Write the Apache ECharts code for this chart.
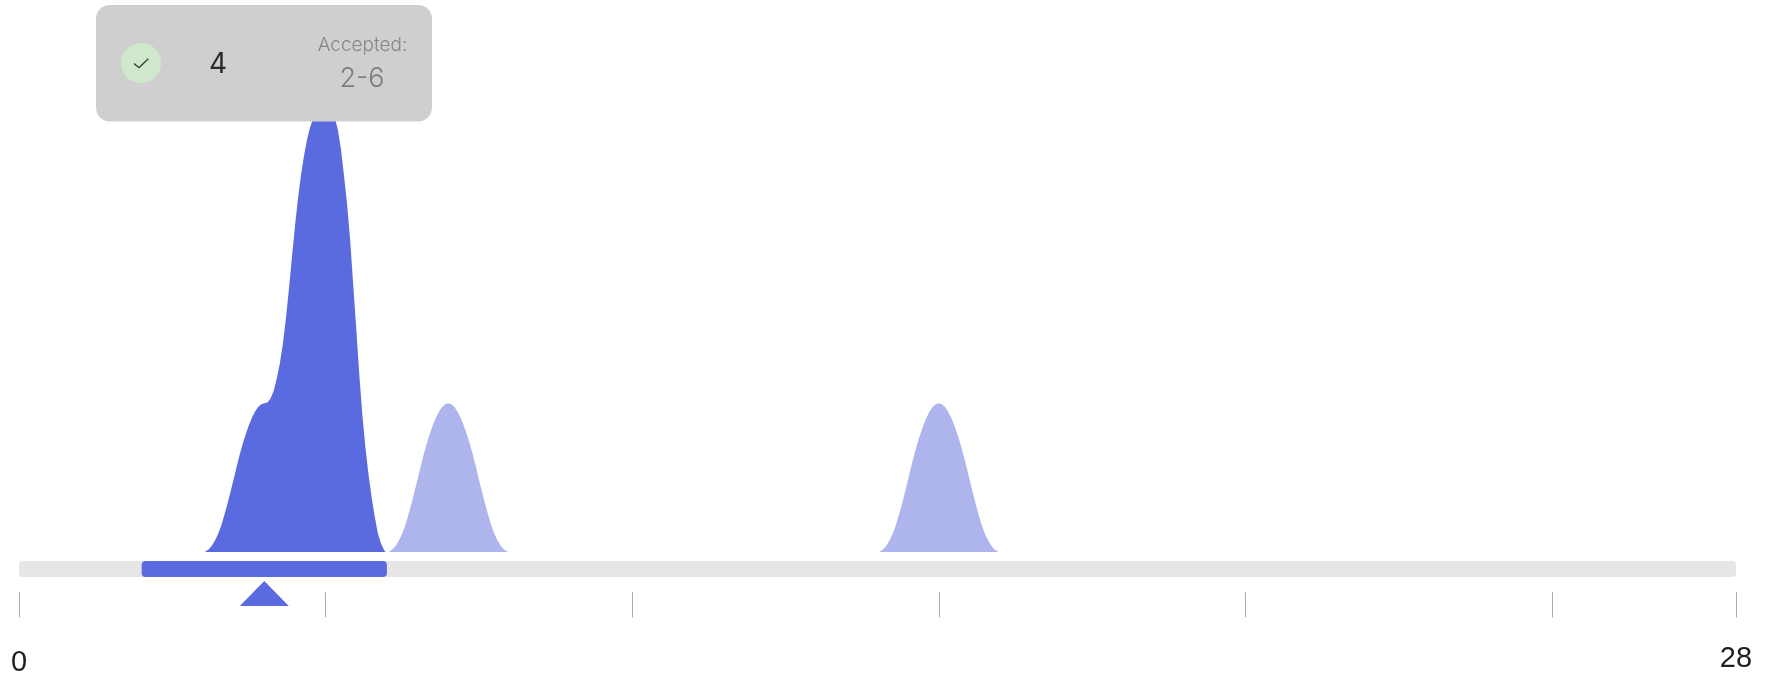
<!DOCTYPE html>
<html>
<head>
<meta charset="utf-8">
<style>html,body{margin:0;padding:0;background:#fff}#c{width:1768px;height:676px}</style>
<script src="https://cdn.jsdelivr.net/npm/echarts@6/dist/echarts.min.js"></script>
</head>
<body>
<div id="c"></div>
<script>
const tickValues = [0, 5, 10, 15, 20, 25, 28];
const tickLabels = [0, 28];
const scaleRange = [0, 28];
const acceptedRange = [2, 6];
const answer = 4;
const acceptedTitle = 'Accepted:';
const acceptedText = '2-6';

const correctX = [3.03,3.1,3.15,3.2,3.25,3.3,3.35,3.4,3.45,3.5,3.55,3.6,3.65,3.7,3.75,3.8,3.85,3.9,3.95,4,4.05,4.1,4.15,4.2,4.25,4.3,4.35,4.4,4.45,4.5,4.55,4.6,4.65,4.7,4.75,4.8,4.85,4.9,4.95,5,5.05,5.1,5.15,5.2,5.25,5.3,5.35,5.4,5.45,5.5,5.55,5.6,5.65,5.7,5.75,5.8,5.85,5.9,5.95,5.98];
const correctY = [0,0.02,0.045,0.08,0.125,0.18,0.25,0.325,0.405,0.49,0.575,0.655,0.73,0.795,0.855,0.905,0.945,0.975,0.993,1.0,1.005,1.03,1.08,1.16,1.26,1.39,1.56,1.76,1.98,2.19,2.38,2.54,2.67,2.78,2.86,2.92,2.96,2.985,2.997,3.0,2.99,2.965,2.92,2.84,2.71,2.53,2.34,2.1,1.8,1.5,1.19,0.92,0.70,0.52,0.37,0.24,0.13,0.06,0.015,0];
const peak7X = [6.03,6.1,6.15,6.2,6.25,6.3,6.35,6.4,6.45,6.5,6.55,6.6,6.65,6.7,6.75,6.8,6.85,6.9,6.95,7,7.05,7.1,7.15,7.2,7.25,7.3,7.35,7.4,7.45,7.5,7.55,7.6,7.65,7.7,7.75,7.8,7.85,7.9,7.97];
const peak7Y = [0,0.02,0.045,0.08,0.125,0.18,0.25,0.325,0.405,0.49,0.575,0.655,0.73,0.795,0.855,0.905,0.945,0.975,0.993,1.0,0.993,0.975,0.945,0.905,0.855,0.795,0.73,0.655,0.575,0.49,0.405,0.325,0.25,0.18,0.125,0.08,0.045,0.02,0];
const peak15X = [14.03,14.1,14.15,14.2,14.25,14.3,14.35,14.4,14.45,14.5,14.55,14.6,14.65,14.7,14.75,14.8,14.85,14.9,14.95,15,15.05,15.1,15.15,15.2,15.25,15.3,15.35,15.4,15.45,15.5,15.55,15.6,15.65,15.7,15.75,15.8,15.85,15.9,15.97];
const peak15Y = [0,0.02,0.045,0.08,0.125,0.18,0.25,0.325,0.405,0.49,0.575,0.655,0.73,0.795,0.855,0.905,0.945,0.975,0.993,1.0,0.993,0.975,0.945,0.905,0.855,0.795,0.73,0.655,0.575,0.49,0.405,0.325,0.25,0.18,0.125,0.08,0.045,0.02,0];

const DARK = '#5A6BDF', LIGHT = '#AEB5EC';
const zip = (a, b) => a.map((v, i) => [v, b[i]]);
const area = (name, xs, ys, color) => ({
  name, type: 'line', data: zip(xs, ys), smooth: false,
  showSymbol: false, silent: true, lineStyle: { width: 0 },
  areaStyle: { color, opacity: 1 }, itemStyle: { color }
});
const barShape = (api, from, to, top, h) => {
  const x0 = api.coord([from, 0])[0], x1 = api.coord([to, 0])[0];
  return { x: x0, y: top, width: x1 - x0, height: h, r: 4 };
};
const chart = echarts.init(document.getElementById('c'), null, { renderer: 'canvas' });
chart.setOption({
  animation: false,
  backgroundColor: '#fff',
  grid: [
    { left: 19, right: 32, top: 106, height: 446 },
    { left: 19, right: 32, top: 592, height: 1 }
  ],
  xAxis: [
    { type: 'value', gridIndex: 0, min: scaleRange[0], max: scaleRange[1], show: false, splitLine: { show: false } },
    {
      type: 'value', gridIndex: 1, min: scaleRange[0], max: scaleRange[1], position: 'bottom',
      splitLine: { show: false }, axisLine: { show: false },
      axisTick: { show: true, length: 25, customValues: tickValues, lineStyle: { color: '#ABABAB', width: 1 } },
      axisLabel: {
        show: true, customValues: tickLabels, margin: 52, hideOverlap: false,
        formatter: v => v === 0 ? '{a|0}' : '{b|' + v + '}',
        rich: {
          a: { fontFamily: 'Liberation Sans', fontSize: 29, color: '#1f1f1f', padding: [4, 0, 0, 0] },
          b: { fontFamily: 'Liberation Sans', fontSize: 29, color: '#1f1f1f', padding: [0, 0, 4, 0] }
        }
      }
    }
  ],
  yAxis: [
    { type: 'value', gridIndex: 0, min: 0, max: 3, show: false, splitLine: { show: false } },
    { type: 'value', gridIndex: 1, min: 0, max: 1, show: false, splitLine: { show: false } }
  ],
  series: [
    area('peak7', peak7X, peak7Y, LIGHT),
    area('peak15', peak15X, peak15Y, LIGHT),
    area('correct', correctX, correctY, DARK),
    {
      type: 'custom', silent: true, data: [scaleRange], z: 3,
      renderItem: (p, api) => ({ type: 'rect', shape: barShape(api, api.value(0), api.value(1), 561, 16), style: { fill: '#E6E6E6' } })
    },
    {
      type: 'custom', silent: true, data: [acceptedRange], z: 4,
      renderItem: (p, api) => ({ type: 'rect', shape: barShape(api, api.value(0), api.value(1), 561, 16), style: { fill: DARK } })
    },
    {
      type: 'custom', silent: true, data: [[answer]], z: 4,
      renderItem: (p, api) => {
        const x = api.coord([api.value(0), 0])[0];
        return { type: 'polygon', shape: { points: [[x, 581], [x + 24.5, 606], [x - 24.5, 606]] }, style: { fill: DARK } };
      }
    }
  ],
  graphic: [
    { type: 'rect', z: 100, shape: { x: 96, y: 5, width: 336, height: 116.5, r: 14 }, style: { fill: '#CFCFCF' } },
    { type: 'circle', z: 101, shape: { cx: 141, cy: 63, r: 20 }, style: { fill: '#CFE8CC' } },
    { type: 'polyline', z: 102, shape: { points: [[134, 63.5], [139, 67.7], [148.3, 58.7]] }, style: { stroke: '#2b3a2b', lineWidth: 1.3, fill: null } },
    { type: 'text', z: 102, x: 218, y: 65, style: { text: String(answer), fill: '#2a2a2a', font: '400 28px Inter', textAlign: 'center', textVerticalAlign: 'middle' } },
    { type: 'text', z: 102, x: 362.5, y: 45, style: { text: acceptedTitle, fill: '#878787', font: '300 19px Inter', textAlign: 'center', textVerticalAlign: 'middle' } },
    { type: 'text', z: 102, x: 362, y: 78.5, style: { text: acceptedText, fill: '#7c7c7c', font: '300 27px Inter', textAlign: 'center', textVerticalAlign: 'middle' } }
  ]
});
</script>
</body>
</html>
